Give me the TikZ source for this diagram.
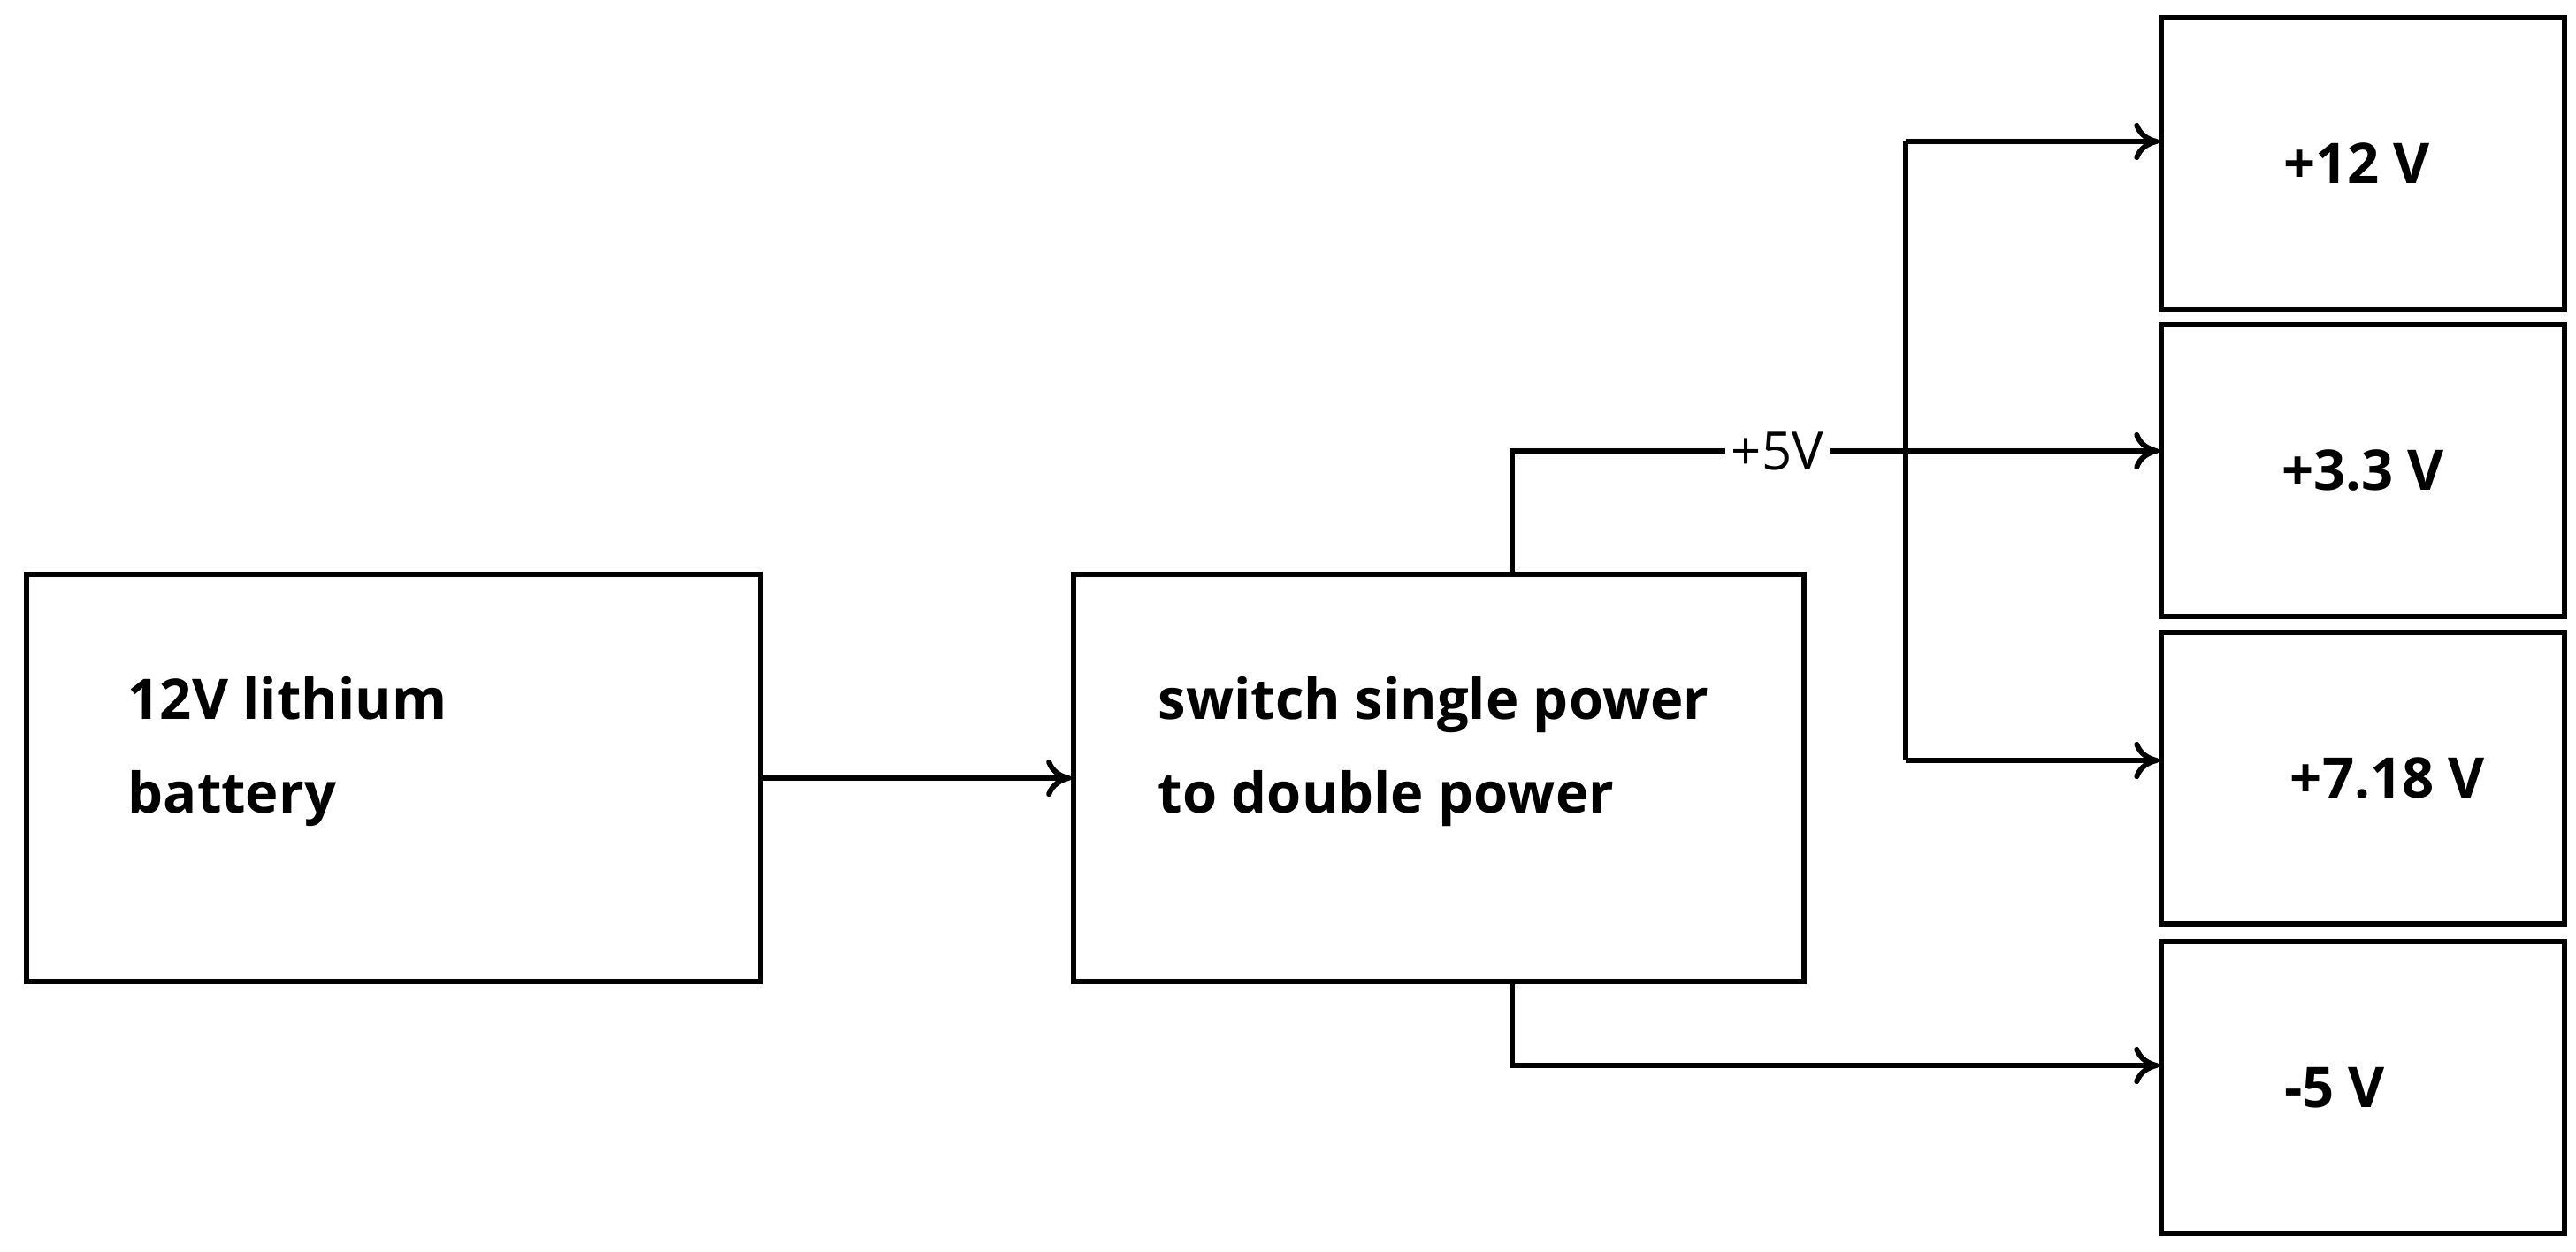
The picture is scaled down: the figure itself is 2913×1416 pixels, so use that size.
\documentclass[tikz,border=0pt]{standalone}
\usepackage{fontspec}
\setmainfont{Open Sans}
\usetikzlibrary{arrows.meta, positioning, calc}

\begin{document}
\begin{tikzpicture} [x=0.01cm, y=-0.01cm, line width = 1.7pt, >={To[length=8pt,width=12pt]},
  box/.style = {draw, rectangle, inner sep=0pt},
  lbl/.style = {font=\fontsize{18}{30}\selectfont\bfseries}]

\useasboundingbox (0,0) rectangle (2913,1416);

\node [box, minimum width=8.3cm, minimum height=4.6cm] (bat) at (445,880) {};
\node [box, minimum width=8.25cm, minimum height=4.6cm] (sw) at (1627,880) {};

\node [lbl, align=left, anchor=west] at (130,850) {12V lithium\\battery};
\node [lbl, align=left, anchor=west] at (1295,850) {switch single power\\to double power};

\node [box, minimum width=4.55cm, minimum height=3.3cm] (v12) at (2672,185) {};
\node [box, minimum width=4.55cm, minimum height=3.3cm] (v33) at (2672,532) {};
\node [box, minimum width=4.55cm, minimum height=3.3cm] (v718) at (2672,880) {};
\node [box, minimum width=4.55cm, minimum height=3.3cm] (vm5) at (2672,1230) {};

\node [lbl] at (2665,185) {+12 V};
\node [lbl] at (2672,532) {+3.3 V};
\node [lbl] at (2700,880) {+7.18 V};
\node [lbl] at (2640,1230) {-5 V};

\coordinate (up) at (1710,510);
\coordinate (dn) at (1710,1205);
\coordinate (jt) at (2155,160);
\coordinate (jb) at (2155,860);

\draw [->] (bat) -- (sw);
\draw [->] (sw.north -| up) -- (up) -- node [pos=0.41, fill=white, inner sep=2pt, font=\fontsize{17}{20}\selectfont] {+5V} (v33.west |- up);
\draw (jt) -- (jb);
\draw [->] (jt) -- (v12.west |- jt);
\draw [->] (jb) -- (v718.west |- jb);
\draw [->] (sw.south -| dn) -- (dn) -- (vm5.west |- dn);

\end{tikzpicture}
\end{document}
